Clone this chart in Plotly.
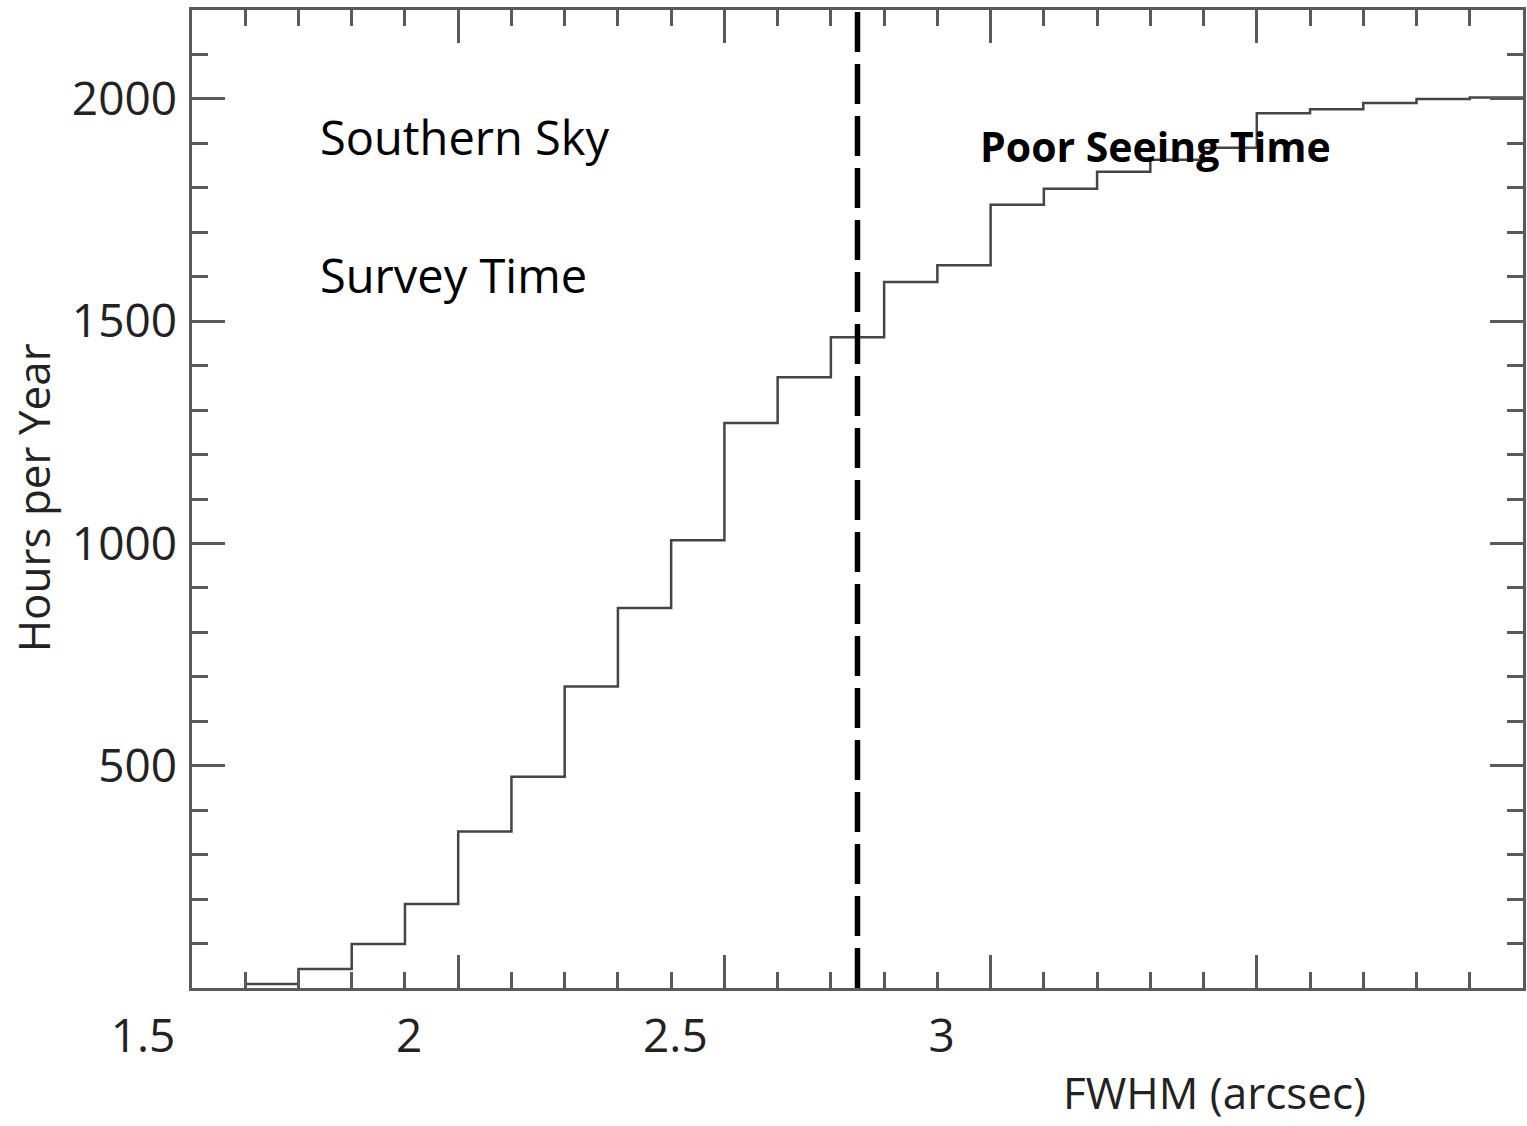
import plotly.graph_objects as go

# FWHM bin left edges (arcsec) and cumulative hours per year
fwhm_bins = [1.6, 1.7, 1.8, 1.9, 2.0, 2.1, 2.2, 2.3, 2.4, 2.5, 2.6, 2.7,
             2.8, 2.9, 3.0, 3.1, 3.2, 3.3, 3.4, 3.5, 3.6, 3.7, 3.8, 3.9]
fwhm_last_edge = 4.0
hours = [9, 43, 99, 189, 352, 475, 678, 855, 1007, 1271, 1374, 1464,
         1588, 1626, 1762, 1798, 1836, 1863, 1890, 1968, 1977, 1991, 2000, 2003]
cut_fwhm = 2.75

x_tickvals = [1.5, 2.0, 2.5, 3.0, 3.5, 4.0]
x_ticktext = ["1.5", "2", "2.5", "3", "", ""]
y_tickvals = [500, 1000, 1500, 2000]
y_ticktext = ["500", "1000", "1500", "2000"]

AX = "#5a5a5a"
FONT = "Open Sans"

fig = go.Figure()
fig.add_trace(go.Scatter(
    x=fwhm_bins + [fwhm_last_edge],
    y=hours + [hours[-1]],
    mode="lines",
    line=dict(shape="hv", color="#454545", width=2.5),
    showlegend=False,
    hoverinfo="skip",
))

fig.add_shape(type="line", x0=cut_fwhm, x1=cut_fwhm, xref="x",
              y0=0, y1=1, yref="paper",
              line=dict(color="black", width=5.5, dash="40px,12px"))

common_axis = dict(
    showgrid=False, zeroline=False, showline=True, linecolor=AX, linewidth=2.5,
    mirror="allticks", ticks="inside", ticklen=33, tickwidth=2.5, tickcolor=AX,
    tickfont=dict(family=FONT, size=46, color="#222"),
)

fig.update_xaxes(
    range=[1.5, 4.0], tickmode="array", tickvals=x_tickvals, ticktext=x_ticktext,
    minor=dict(dtick=0.1, tick0=1.5, ticks="inside", ticklen=16, tickwidth=2.5, tickcolor=AX),
    ticklabelshift=-49, ticklabelstandoff=6,
    **common_axis,
)
fig.update_yaxes(
    range=[0, 2200], tickmode="array", tickvals=y_tickvals, ticktext=y_ticktext,
    minor=dict(dtick=100, tick0=0, ticks="inside", ticklen=16, tickwidth=2.5, tickcolor=AX),
    ticklabelstandoff=3,
    **common_axis,
)

W, H = 1527, 1126
L, R, T, B = 192, 1, 10, 138
pw, ph = W - L - R, H - T - B

def px(x):
    return (x - L) / pw

def py(y):
    return (H - B - y) / ph

ann = [
    dict(text="Southern Sky", x=px(318), y=py(137), xanchor="left", yanchor="middle",
         font=dict(family=FONT, size=47, color="black")),
    dict(text="Survey Time", x=px(318), y=py(275), xanchor="left", yanchor="middle",
         font=dict(family=FONT, size=47, color="black")),
    dict(text="<b>Poor Seeing Time</b>", x=px(980), y=py(146), xanchor="left", yanchor="middle",
         font=dict(family=FONT, size=41, color="black")),
    dict(text="FWHM (arcsec)", x=px(1217), y=py(1092), xanchor="center", yanchor="middle",
         font=dict(family=FONT, size=44, color="#222")),
    dict(text="Hours per Year", x=px(33), y=py(498), xanchor="center", yanchor="middle",
         textangle=-90, font=dict(family=FONT, size=44, color="#222")),
]
for a in ann:
    a.update(xref="paper", yref="paper", showarrow=False)
fig.update_layout(
    width=W, height=H, margin=dict(l=L, r=R, t=T, b=B),
    paper_bgcolor="white", plot_bgcolor="white",
    annotations=ann,
)

fig.write_html(
    "out.html",
    config={"displayModeBar": False},
    post_script="document.body.style.margin='0';document.body.style.overflow='hidden';",
)
